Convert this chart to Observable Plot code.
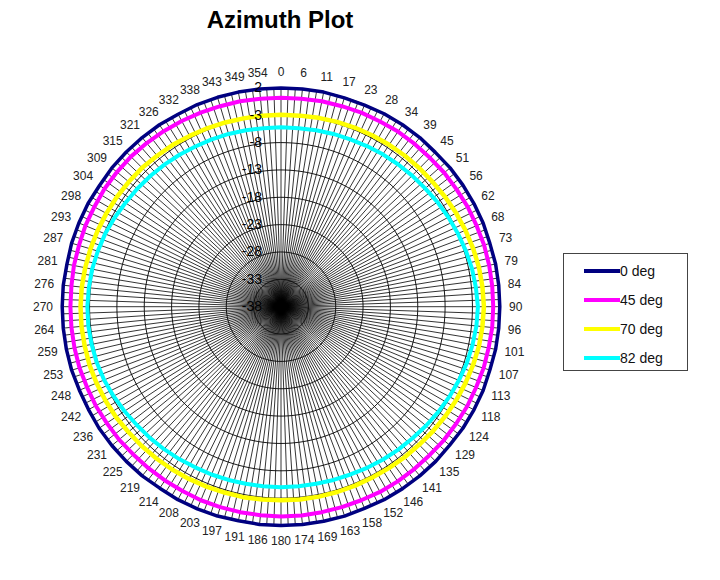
<!DOCTYPE html>
<html>
<head>
<meta charset="utf-8">
<script src="https://cdn.jsdelivr.net/npm/d3@7"></script>
<script src="https://cdn.jsdelivr.net/npm/@observablehq/plot@0.6"></script>
<style>
  body { margin: 0; background: #fff; font-family: Arial, "Liberation Sans", sans-serif; }
  #wrap { position: relative; width: 720px; height: 580px; overflow: hidden; }
  #title { position: absolute; left: 0; top: 0; width: 560px; height: 40px; line-height: 40px;
           text-align: center; font-weight: bold; font-size: 24px; color: #000; }
  #chart { position: absolute; left: 0; top: 40px; }
  #legend { position: absolute; left: 563px; top: 253px; width: 123px; height: 116px;
            border: 1px solid #444; background: #fff; }
  .row { position: absolute; left: 0; width: 123px; height: 20px; }
  .sw { position: absolute; left: 20px; top: 8px; width: 36px; height: 4px; }
  .lb { position: absolute; left: 56px; top: 0; line-height: 20px; font-size: 14px; color: #111; white-space: nowrap; }
</style>
</head>
<body>
<div id="wrap">
  <div id="title">Azimuth Plot</div>
  <div id="chart"></div>
  <div id="legend"></div>
</div>
<script>
// ---------- data ----------
const angleLabels = [0,6,11,17,23,28,34,39,45,51,56,62,68,73,79,84,
                     90,96,101,107,113,118,124,129,135,141,146,152,158,163,169,174,
                     180,186,191,197,203,208,214,219,225,231,236,242,248,253,259,264,
                     270,276,281,287,293,298,304,309,315,321,326,332,338,343,349,354];
const rTicks = [2,-3,-8,-13,-18,-23,-28,-33,-38];
const gridDivisions = 192;   // spokes of the category grid (one label every third spoke)
const seriesNames = ["0 deg","45 deg","70 deg","82 deg"];

const deg0 = [2.0,2.0,2.0,1.9,1.9,2.0,2.0,2.0,
              1.9,2.0,2.0,2.0,2.0,1.9,2.0,2.0,
              2.0,2.0,2.0,1.9,2.0,2.0,2.0,1.9,
              2.0,2.0,2.0,2.0,1.9,2.0,2.0,2.0,
              2.0,2.0,1.9,2.0,2.0,2.0,1.9,2.0,
              2.0,2.0,2.0,1.9,1.9,2.0,2.0,2.0,
              2.0,2.0,1.9,2.0,2.0,2.0,1.9,2.0,
              2.0,2.0,2.0,1.9,2.0,2.0,2.0,2.0];
const deg45 = [0.2,0.2,0.3,0.3,0.4,0.4,0.5,0.5,
               0.5,0.6,0.6,0.7,0.7,0.8,0.8,0.8,
               0.8,0.8,0.7,0.7,0.6,0.6,0.5,0.5,
               0.4,0.4,0.4,0.4,0.3,0.3,0.3,0.35,
               0.35,0.3,0.3,0.3,0.3,0.2,0.2,0.2,
               0.2,0.3,0.3,0.4,0.4,0.5,0.5,0.5,
               0.5,0.5,0.6,0.6,0.7,0.7,0.8,0.8,
               0.8,0.7,0.6,0.5,0.4,0.3,0.3,0.2];
const deg70 = [-2.9,-2.9,-2.8,-2.7,-2.6,-2.5,-2.4,-2.3,
               -2.2,-2.1,-1.9,-1.7,-1.5,-1.3,-1.1,-1.0,
               -0.9,-1.0,-1.1,-1.3,-1.5,-1.7,-1.9,-2.1,
               -2.3,-2.4,-2.5,-2.6,-2.6,-2.6,-2.6,-2.6,
               -2.6,-2.6,-2.5,-2.5,-2.4,-2.3,-2.2,-2.1,
               -2.0,-1.9,-1.7,-1.6,-1.5,-1.4,-1.4,-1.35,
               -1.35,-1.4,-1.5,-1.6,-1.7,-1.8,-1.9,-2.0,
               -2.1,-2.3,-2.4,-2.6,-2.7,-2.8,-2.9,-2.9];
const deg82 = [-5.2,-5.2,-5.1,-5.0,-4.9,-4.7,-4.5,-4.3,
               -4.1,-3.9,-3.6,-3.3,-3.0,-2.7,-2.4,-2.2,
               -2.0,-2.1,-2.3,-2.5,-2.8,-3.1,-3.4,-3.7,
               -4.0,-4.2,-4.4,-4.6,-4.8,-4.9,-5.0,-5.0,
               -5.0,-5.0,-5.0,-4.9,-4.8,-4.7,-4.5,-4.3,
               -4.1,-3.9,-3.6,-3.3,-3.0,-2.8,-2.7,-2.6,
               -2.6,-2.7,-2.8,-3.0,-3.2,-3.5,-3.8,-4.0,
               -4.2,-4.4,-4.6,-4.8,-4.9,-5.0,-5.1,-5.2];

const seriesValues = [deg0, deg45, deg70, deg82];
const seriesColors = ["#000080","#ff00ff","#ffff00","#00ffff"];
const seriesWidths = [3.5, 4, 4.5, 4];

// ---------- geometry helpers ----------
const N = angleLabels.length;
const rMax = rTicks[0];
const rMin = rTicks[rTicks.length - 1];
const span = rMax - rMin;
const cx = 280.5, cy = 266.2, R = 218.8;   // pixel placement of the radar
const pxPerUnit = R / span;
const theta = i => i * 2 * Math.PI / N;
const thetaG = j => j * 2 * Math.PI / gridDivisions;
const X = (i, v) => (v - rMin) * Math.sin(theta(i));
const Y = (i, v) => (v - rMin) * Math.cos(theta(i));

const rows = seriesNames.flatMap((name, s) => seriesValues[s].map((v, i) => ({name, i, v})));
const spokes = d3.range(gridDivisions);
const gridRows = rTicks.slice(0, -1).flatMap(t => spokes.map(j => ({t, j})));

// angle label placement (pixels -> data units)
const labelPos = (d, i) => {
  const th = theta(i);
  const w = String(d).length * 6.67;
  const dxp = 228 * Math.sin(th) + (w / 2) * Math.sin(th);
  const dyp = 228 * Math.cos(th) + 6.5 * Math.cos(th);
  return [dxp / pxPerUnit, dyp / pxPerUnit];
};

const marks = [
  Plot.link(spokes, {
    x1: 0, y1: 0,
    x2: j => span * Math.sin(thetaG(j)), y2: j => span * Math.cos(thetaG(j)),
    stroke: "#000", strokeWidth: 0.8
  }),
  Plot.line(gridRows, {
    x: d => (d.t - rMin) * Math.sin(thetaG(d.j)), y: d => (d.t - rMin) * Math.cos(thetaG(d.j)), z: "t",
    curve: "linear-closed", stroke: "#000", strokeWidth: 0.9
  }),
  ...seriesNames.map((name, s) => Plot.line(rows.filter(d => d.name === name), {
    x: d => X(d.i, d.v), y: d => Y(d.i, d.v),
    stroke: "name", strokeWidth: seriesWidths[s], curve: "linear-closed"
  })),
  Plot.text(rTicks, {
    x: 0, y: d => d - rMin, text: d => String(d),
    textAnchor: "end", dx: -19, fontSize: 14, fill: "#000"
  }),
  Plot.text(angleLabels, {
    x: (d, i) => labelPos(d, i)[0], y: (d, i) => labelPos(d, i)[1],
    text: d => String(d), fontSize: 12, fill: "#222"
  })
];

const chart = Plot.plot({
  width: 720,
  height: 540,
  style: { background: "transparent", fontFamily: "Arial, 'Liberation Sans', sans-serif", overflow: "visible" },
  x: { domain: [-span, span], range: [cx - R, cx + R], axis: null },
  y: { domain: [-span, span], range: [cy + R, cy - R], axis: null },
  color: { domain: seriesNames, range: seriesColors },
  marks
});
document.getElementById("chart").appendChild(chart);

// ---------- legend ----------
const legend = document.getElementById("legend");
seriesNames.forEach((name, s) => {
  const row = document.createElement("div");
  row.className = "row";
  row.style.top = (7 + s * 29) + "px";
  const sw = document.createElement("div");
  sw.className = "sw";
  sw.style.background = seriesColors[s];
  const lb = document.createElement("div");
  lb.className = "lb";
  lb.textContent = name;
  row.appendChild(sw);
  row.appendChild(lb);
  legend.appendChild(row);
});
</script>
</body>
</html>
